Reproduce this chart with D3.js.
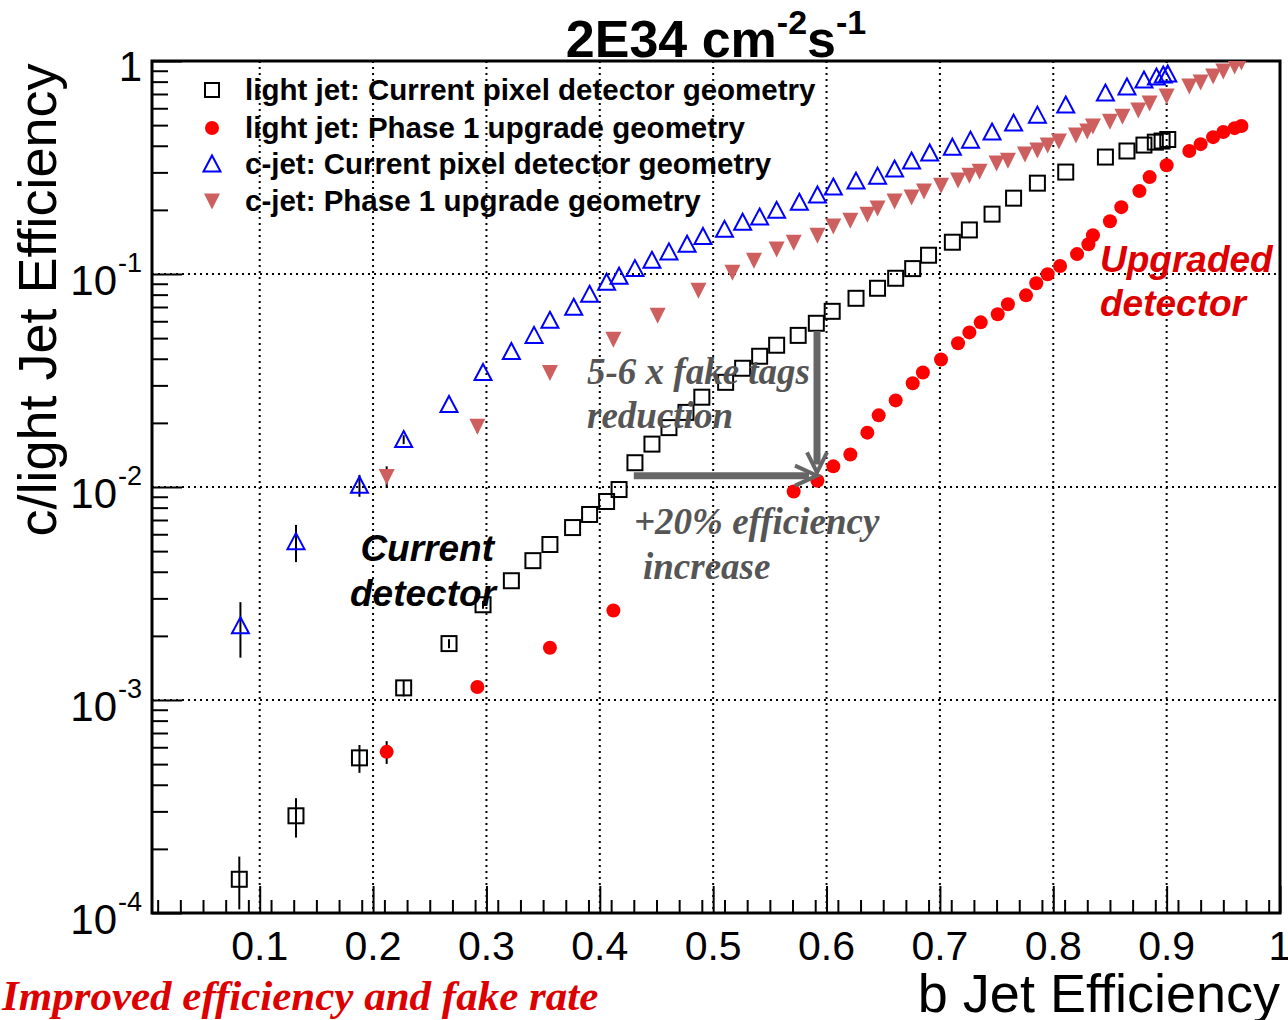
<!DOCTYPE html>
<html>
<head>
<meta charset="utf-8">
<script src="https://cdn.jsdelivr.net/npm/d3@7"></script>
<style>
  body { margin: 0; background: #fff; }
  svg { display: block; font-family: "Liberation Sans", Arial, sans-serif; }
</style>
</head>
<body>
<svg id="chart" width="1288" height="1020"></svg>
<script>
// b-tag performance: mistag rate vs b efficiency, current vs phase 1 pixel geometry

// [b efficiency, c/light efficiency]
var lightCur = [[0.082,1.44e-4],[0.132,2.86e-4],[0.188,5.35e-4],[0.227,1.14e-3],[0.267,1.84e-3],[0.297,2.80e-3],
  [0.322,3.63e-3],[0.341,4.51e-3],[0.356,5.37e-3],[0.376,6.45e-3],[0.391,7.43e-3],[0.406,8.55e-3],[0.417,9.73e-3],
  [0.431,0.0130],[0.446,0.0159],[0.461,0.0190],[0.476,0.0224],[0.490,0.0264],[0.511,0.0310],[0.526,0.0361],
  [0.541,0.0411],[0.556,0.0463],[0.575,0.0515],[0.591,0.0587],[0.605,0.0668],[0.626,0.0769],[0.645,0.0857],
  [0.661,0.0955],[0.676,0.106],[0.690,0.1225],[0.711,0.141],[0.726,0.161],[0.746,0.191],[0.765,0.227],
  [0.786,0.267],[0.811,0.301],[0.846,0.354],[0.865,0.378],[0.880,0.403],[0.890,0.416],[0.896,0.421],[0.901,0.428]];

var lightUpg = [[0.212,5.71e-4],[0.292,1.15e-3],[0.356,1.76e-3],[0.412,2.63e-3],[0.571,9.52e-3],[0.592,0.0107],
  [0.606,0.0125],[0.621,0.0142],[0.636,0.0180],[0.646,0.0217],[0.661,0.0255],[0.676,0.0307],[0.685,0.0345],
  [0.701,0.0397],[0.716,0.0473],[0.726,0.0532],[0.736,0.0593],[0.751,0.0647],[0.760,0.0721],[0.776,0.0794],
  [0.785,0.0905],[0.795,0.0997],[0.806,0.109],[0.821,0.124],[0.831,0.138],[0.835,0.152],[0.850,0.177],
  [0.860,0.206],[0.876,0.245],[0.885,0.285],[0.900,0.324],[0.920,0.378],[0.930,0.407],[0.941,0.439],
  [0.950,0.464],[0.960,0.484],[0.966,0.495]];

var cCur = [[0.083,2.23e-3],[0.132,5.54e-3],[0.188,0.0102],[0.227,0.0167],[0.267,0.0244],[0.297,0.0345],
  [0.322,0.0433],[0.342,0.0515],[0.356,0.0606],[0.377,0.0698],[0.391,0.0803],[0.406,0.0915],[0.417,0.0976],
  [0.431,0.106],[0.446,0.116],[0.461,0.127],[0.477,0.138],[0.491,0.150],[0.510,0.162],[0.526,0.175],
  [0.541,0.185],[0.556,0.199],[0.576,0.217],[0.592,0.235],[0.606,0.256],[0.626,0.273],[0.645,0.288],
  [0.660,0.311],[0.675,0.339],[0.691,0.370],[0.711,0.394],[0.727,0.425],[0.746,0.464],[0.765,0.511],
  [0.786,0.557],[0.811,0.621],[0.846,0.707],[0.865,0.755],[0.880,0.814],[0.891,0.841],[0.897,0.859],[0.901,0.869]];

var cUpg = [[0.212,0.0112],[0.292,0.0193],[0.356,0.0345],[0.412,0.0494],[0.451,0.064],[0.487,0.0839],
  [0.517,0.102],[0.536,0.116],[0.556,0.131],[0.571,0.141],[0.592,0.152],[0.606,0.168],[0.621,0.179],
  [0.636,0.191],[0.645,0.204],[0.660,0.220],[0.675,0.230],[0.686,0.245],[0.701,0.261],[0.716,0.276],
  [0.726,0.291],[0.735,0.304],[0.750,0.332],[0.760,0.342],[0.775,0.366],[0.786,0.382],[0.795,0.403],
  [0.805,0.421],[0.820,0.449],[0.830,0.469],[0.835,0.495],[0.850,0.522],[0.861,0.551],[0.875,0.588],
  [0.885,0.635],[0.900,0.685],[0.920,0.763],[0.930,0.797],[0.941,0.850],[0.950,0.897],[0.960,0.947],[0.966,0.989]];

// vertical errors on the first points (rest hidden under markers)
var lightCurErr = [0.4e-4, 0.6e-4, 0.8e-4, 1.0e-4, 0.9e-4, 1.2e-4];
var lightUpgErr = [0.7e-4, 0.6e-4];
var cCurErr = [0.65e-3, 1.1e-3, 1.2e-3, 0.8e-3];
var cUpgErr = [1.3e-3, 1.3e-3];

var legendLabels = ["light jet: Current pixel detector geometry", "light jet: Phase 1 upgrade geometry",
  "c-jet: Current pixel detector geometry", "c-jet: Phase 1 upgrade geometry"];

var xMajor = [0.1, 0.2, 0.3, 0.4, 0.5, 0.6, 0.7, 0.8, 0.9, 1.0];
var xLabels = ["0.1", "0.2", "0.3", "0.4", "0.5", "0.6", "0.7", "0.8", "0.9", "1"];
var yDecades = [-4, -3, -2, -1, 0];

var svg = d3.select("#chart");
var L = 152, R = 1280, T = 61, B = 913;

var x = d3.scaleLinear().domain([0.005, 1.0]).range([L, R]);
var y = d3.scaleLog().domain([1e-4, 1]).range([B, T]);

svg.append("clipPath").attr("id", "clip")
  .append("rect")
  .attr("x", L).attr("y", T).attr("width", R - L).attr("height", B - T);

// grid
var grid = svg.append("g").attr("stroke", "#000").attr("stroke-width", 2).attr("stroke-dasharray", "2,4");
grid.selectAll(".gx").data(xMajor).enter().append("line")
  .attr("x1", d => x(d)).attr("x2", d => x(d)).attr("y1", T).attr("y2", B);
grid.selectAll(".gy").data(yDecades.slice(1, 4)).enter().append("line")
  .attr("x1", L).attr("x2", R).attr("y1", d => y(Math.pow(10, d))).attr("y2", d => y(Math.pow(10, d)));

// ticks (inward)
var xMinor = d3.range(0.01, 1.0, 0.02).filter(v => Math.abs(v * 10 - Math.round(v * 10)) > 1e-6);
var xAxisMaj = d3.axisBottom(x).tickValues(xMajor).tickSize(-27).tickFormat("");
var xAxisMin = d3.axisBottom(x).tickValues(xMinor).tickSize(-13).tickFormat("");
svg.append("g").attr("transform", `translate(0,${B})`).call(xAxisMaj).call(g => g.select(".domain").remove())
  .selectAll("line").attr("stroke-width", 2);
svg.append("g").attr("transform", `translate(0,${B})`).call(xAxisMin).call(g => g.select(".domain").remove())
  .selectAll("line").attr("stroke-width", 2);

var yMinor = [];
yDecades.slice(0, 4).forEach(d => { for (var k = 2; k <= 9; k++) yMinor.push(k * Math.pow(10, d)); });
var yAxisMaj = d3.axisLeft(y).tickValues(yDecades.map(d => Math.pow(10, d))).tickSize(-30).tickFormat("");
var yAxisMin = d3.axisLeft(y).tickValues(yMinor).tickSize(-16).tickFormat("");
svg.append("g").attr("transform", `translate(${L},0)`).call(yAxisMaj).call(g => g.select(".domain").remove())
  .selectAll("line").attr("stroke-width", 2);
svg.append("g").attr("transform", `translate(${L},0)`).call(yAxisMin).call(g => g.select(".domain").remove())
  .selectAll("line").attr("stroke-width", 2);

// frame
svg.append("rect").attr("x", L).attr("y", T).attr("width", R - L).attr("height", B - T)
  .attr("fill", "none").attr("stroke", "#000").attr("stroke-width", 3);

// tick labels
svg.append("g").selectAll("text").data(xMajor).enter().append("text")
  .attr("x", d => x(d)).attr("y", 960).attr("text-anchor", "middle")
  .attr("font-size", 41).text((d, i) => xLabels[i]);

var yl = svg.append("g").attr("font-size", 42);
yDecades.forEach(function (d) {
  var py = y(Math.pow(10, d));
  if (d === 0) {
    yl.append("text").attr("x", 142).attr("y", py + 20).attr("text-anchor", "end").text("1");
  } else {
    yl.append("text").attr("x", 117).attr("y", py + 21).attr("text-anchor", "end").text("10");
    yl.append("text").attr("x", 118).attr("y", py - 2).attr("font-size", 27).text("-" + (-d));
  }
});

// axis titles
svg.append("text").attr("x", R).attr("y", 1012).attr("text-anchor", "end")
  .attr("font-size", 54).text("b Jet Efficiency");
svg.append("text").attr("transform", "translate(56,300) rotate(-90)").attr("text-anchor", "middle")
  .attr("font-size", 54).text("c/light Jet Efficiency");

// title
var title = svg.append("text").attr("x", 716).attr("y", 57).attr("text-anchor", "middle")
  .attr("font-size", 52).attr("font-weight", "bold");
title.append("tspan").text("2E34 cm");
title.append("tspan").attr("dy", -23).attr("font-size", 34).text("-2");
title.append("tspan").attr("dy", 23).text("s");
title.append("tspan").attr("dy", -23).attr("font-size", 34).text("-1");

// markers
var triUp = "M0,-8.5L8.5,7.5L-8.5,7.5Z";
var triDown = "M-8,-7.5L8,-7.5L0,8.5Z";

function errBars(g, data, err) {
  g.selectAll(".eb").data(data.slice(0, err.length)).enter().append("line")
    .attr("x1", d => x(d[0])).attr("x2", d => x(d[0]))
    .attr("y1", (d, i) => y(d[1] + err[i])).attr("y2", (d, i) => y(Math.max(d[1] - err[i], 1e-5)))
    .attr("stroke", "#000").attr("stroke-width", 2);
}

var plot = svg.append("g").attr("clip-path", "url(#clip)");

var gCU = plot.append("g");
errBars(gCU, cUpg, cUpgErr);
gCU.selectAll("path").data(cUpg).enter().append("path")
  .attr("d", triDown).attr("transform", d => `translate(${x(d[0])},${y(d[1])})`)
  .attr("fill", "#cd5f5f");

var gCC = plot.append("g");
errBars(gCC, cCur, cCurErr);
gCC.selectAll("path").data(cCur).enter().append("path")
  .attr("d", triUp).attr("transform", d => `translate(${x(d[0])},${y(d[1])})`)
  .attr("fill", "none").attr("stroke", "#0000ff").attr("stroke-width", 2);

var gLC = plot.append("g");
errBars(gLC, lightCur, lightCurErr);
gLC.selectAll("rect").data(lightCur).enter().append("rect")
  .attr("x", d => x(d[0]) - 7.5).attr("y", d => y(d[1]) - 7.5).attr("width", 15).attr("height", 15)
  .attr("fill", "none").attr("stroke", "#000").attr("stroke-width", 2);

var gLU = plot.append("g");
errBars(gLU, lightUpg, lightUpgErr);
gLU.selectAll("circle").data(lightUpg).enter().append("circle")
  .attr("cx", d => x(d[0])).attr("cy", d => y(d[1])).attr("r", 7).attr("fill", "#ff0000");

// arrows
var arrowCol = "#666";
var hx0 = x(0.43), hx1 = x(0.5916), hy = y(0.0113);
var vx = x(0.5916), vy0 = y(0.054), vy1 = y(0.0117);
var ar = svg.append("g").attr("stroke", arrowCol).attr("fill", "none");
ar.append("line").attr("x1", hx0).attr("x2", hx1 - 8).attr("y1", hy).attr("y2", hy).attr("stroke-width", 7);
ar.append("polyline").attr("points", `${hx1 - 22},${hy - 10} ${hx1},${hy} ${hx1 - 22},${hy + 10}`).attr("stroke-width", 4);
ar.append("line").attr("x1", vx).attr("x2", vx).attr("y1", vy0).attr("y2", vy1 - 8).attr("stroke-width", 7);
ar.append("polyline").attr("points", `${vx - 10},${vy1 - 20} ${vx},${vy1} ${vx + 10},${vy1 - 20}`).attr("stroke-width", 4);

// legend
var lg = svg.append("g");
var rowsY = [90, 128, 164, 201];
lg.append("rect").attr("x", 205).attr("y", rowsY[0] - 7).attr("width", 14).attr("height", 14)
  .attr("fill", "none").attr("stroke", "#000").attr("stroke-width", 2);
lg.append("circle").attr("cx", 212).attr("cy", rowsY[1]).attr("r", 7).attr("fill", "#ff0000");
lg.append("path").attr("d", triUp).attr("transform", `translate(212,${rowsY[2]})`)
  .attr("fill", "none").attr("stroke", "#0000ff").attr("stroke-width", 2);
lg.append("path").attr("d", triDown).attr("transform", `translate(212,${rowsY[3]})`).attr("fill", "#cd5f5f");
lg.selectAll("text").data(legendLabels).enter().append("text")
  .attr("x", 245).attr("y", (d, i) => rowsY[i] + 10).attr("font-size", 29.5).attr("font-weight", "bold")
  .text(d => d);

// annotations
function note(lines, x0, y0, dy, opts) {
  var t = svg.append("text").attr("font-size", opts.size).attr("font-weight", "bold")
    .attr("font-style", "italic").attr("fill", opts.color).attr("text-anchor", opts.anchor || "start");
  if (opts.serif) t.attr("font-family", "'Liberation Serif','Times New Roman',serif");
  lines.forEach((s, i) => t.append("tspan").attr("x", x0 + (opts.shift ? opts.shift[i] : 0)).attr("y", y0 + i * dy).text(s));
}
note(["Current", "detector"], 494, 561, 45, { size: 37, color: "#000", anchor: "end", shift: [0, 2] });
note(["Upgraded", "detector"], 1100, 272, 44, { size: 37, color: "#dd0000" });
note(["5-6 x fake tags", "reduction"], 587, 384, 44, { size: 37, color: "#555", serif: true });
note(["+20% efficiency", "increase"], 634, 534, 45, { size: 37, color: "#555", serif: true, shift: [0, 9] });
note(["Improved efficiency and fake rate"], 2, 1010, 0, { size: 43, color: "#dd0000", serif: true });
</script>
</body>
</html>
